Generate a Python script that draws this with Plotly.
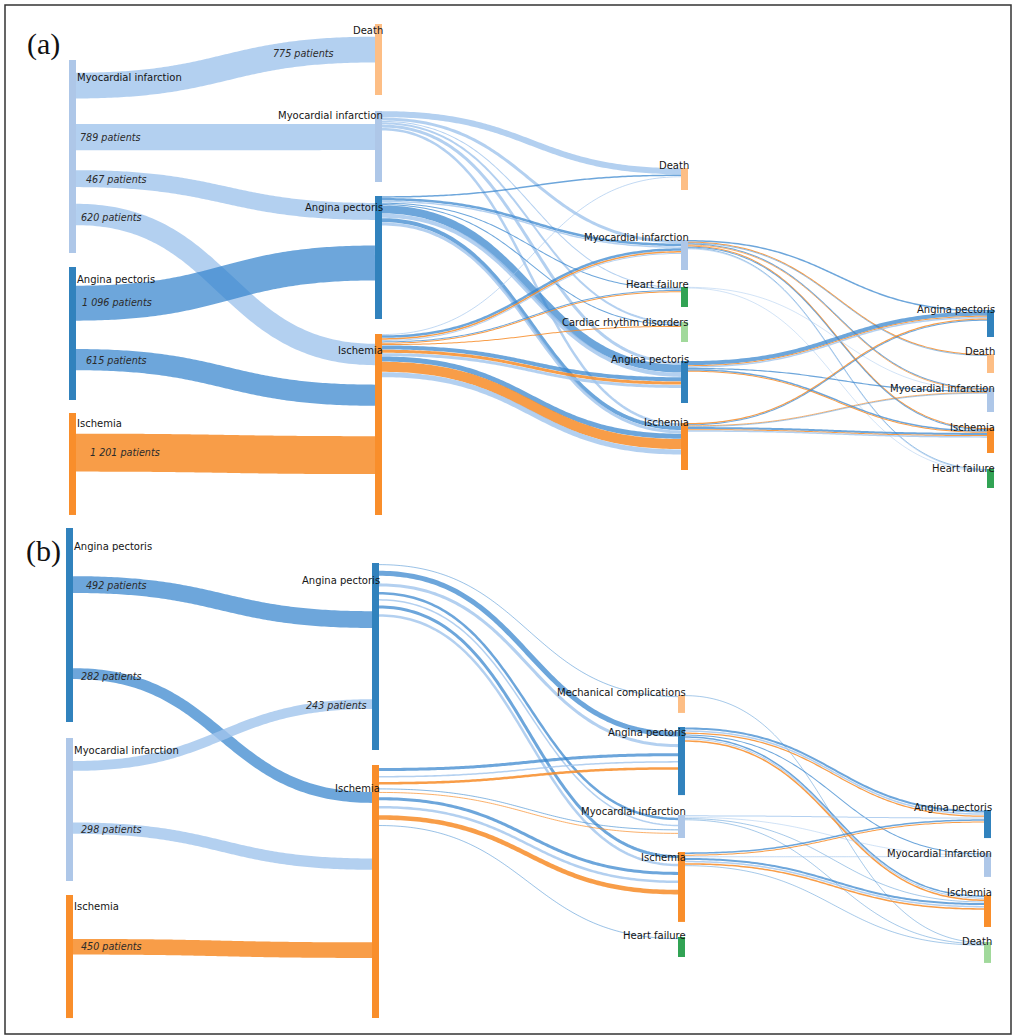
import numpy as np
import plotly.graph_objects as go

# ====================== DATA : panel (a) ======================
A_NODES = ["Myocardial infarction", "Angina pectoris", "Ischemia",
           "Death", "Myocardial infarction", "Angina pectoris", "Ischemia",
           "Death", "Myocardial infarction", "Heart failure", "Cardiac rhythm disorders",
           "Angina pectoris", "Ischemia",
           "Angina pectoris", "Death", "Myocardial infarction", "Ischemia", "Heart failure"]
A_NODE_STEP = [0, 0, 0, 1, 1, 1, 1, 2, 2, 2, 2, 2, 2, 3, 3, 3, 3, 3]
A_NODE_PATIENTS = [2925, 2015, 1545, 1076, 1076, 1864, 2742,
                   333, 455, 303, 303, 636, 712, 409, 288, 364, 379, 288]

A_FLOW_SRC = [0, 0, 0, 0, 1, 1, 2]
A_FLOW_TGT = [3, 4, 5, 6, 5, 6, 6]
A_FLOW_PATIENTS = [775, 789, 467, 620, 1096, 615, 1201]

# later pathways, coloured by the first event (MI / AP / IS)
A_PATH_SRC = [4, 4, 4, 4, 4, 4,
              5, 5, 5, 5, 5, 5, 5, 5, 5,
              6, 6, 6, 6, 6, 6, 6, 6, 6, 6, 6, 6, 6,
              8, 8, 8, 8, 8, 8, 8, 8, 8,
              9, 9,
              11, 11, 11, 11, 11, 11,
              12, 12, 12, 12, 12, 12, 12]
A_PATH_TGT = [7, 8, 9, 10, 11, 12,
              7, 8, 8, 9, 10, 11, 11, 12, 12,
              7, 8, 8, 8, 9, 9, 10, 11, 11, 11, 12, 12, 12,
              13, 14, 14, 15, 15, 16, 16, 17, 17,
              15, 17,
              13, 13, 13, 15, 16, 16,
              13, 13, 15, 15, 16, 16, 16]
A_PATH_ORIGIN = ["MI", "MI", "MI", "MI", "MI", "MI",
                 "AP", "AP", "MI", "AP", "AP", "AP", "MI", "AP", "MI",
                 "MI", "AP", "IS", "MI", "AP", "IS", "IS", "AP", "IS", "MI", "AP", "IS", "MI",
                 "AP", "IS", "AP", "AP", "IS", "IS", "AP", "AP", "MI",
                 "MI", "MI",
                 "AP", "IS", "MI", "AP", "AP", "IS",
                 "IS", "AP", "IS", "AP", "AP", "IS", "MI"]
A_PATH_PATIENTS = [210, 105, 35, 70, 105, 88,
                   52, 88, 52, 35, 35, 280, 140, 140, 105,
                   28, 88, 52, 35, 35, 35, 35, 140, 105, 105, 175, 350, 175,
                   52, 35, 25, 35, 28, 35, 35, 25, 25,
                   21, 21,
                   140, 35, 52, 42, 52, 35,
                   42, 35, 28, 21, 70, 35, 52]
A_FLOW_LABEL_POS = [0.76, 0.117, 0.137, 0.12, 0.137, 0.134, 0.164]

# ====================== DATA : panel (b) ======================
B_NODES = ["Angina pectoris", "Myocardial infarction", "Ischemia",
           "Angina pectoris", "Ischemia",
           "Mechanical complications", "Angina pectoris", "Myocardial infarction", "Ischemia",
           "Heart failure",
           "Angina pectoris", "Myocardial infarction", "Ischemia", "Death"]
B_NODE_STEP = [0, 0, 0, 1, 1, 2, 2, 2, 2, 2, 3, 3, 3, 3]
B_NODE_PATIENTS = [843, 622, 535, 813, 1100, 78, 296, 100, 304, 87, 122, 104, 139, 91]

B_FLOW_SRC = [0, 0, 1, 1, 2]
B_FLOW_TGT = [3, 4, 3, 4, 4]
B_FLOW_PATIENTS = [492, 282, 243, 298, 450]

B_PATH_SRC = [3, 3, 3, 3, 3, 3, 3,
              4, 4, 4, 4, 4, 4, 4, 4, 4,
              5,
              6, 6, 6, 6, 6, 6, 6,
              7, 7, 7, 7,
              8, 8, 8, 8, 8, 8, 8]
B_PATH_TGT = [5, 6, 6, 7, 7, 8, 8,
              6, 6, 6, 7, 7, 8, 8, 8, 9,
              13,
              10, 10, 10, 11, 12, 12, 12,
              10, 11, 12, 13,
              10, 10, 11, 12, 12, 12, 13]
B_PATH_ORIGIN = ["AP", "AP", "MI", "AP", "MI", "AP", "MI",
                 "AP", "MI", "IS", "AP", "IS", "AP", "MI", "IS", "AP",
                 "AP",
                 "AP", "MI", "IS", "AP", "AP", "MI", "IS",
                 "MI", "MI", "AP", "AP",
                 "AP", "IS", "MI", "AP", "MI", "IS", "AP"]
B_PATH_PATIENTS = [25, 180, 108, 90, 54, 108, 90,
                   108, 54, 90, 29, 29, 108, 90, 162, 25,
                   22,
                   72, 54, 43, 36, 54, 36, 54,
                   36, 22, 22, 22,
                   54, 36, 29, 72, 54, 54, 22]
B_FLOW_LABEL_POS = [0.147, 0.13, 0.88, 0.13, 0.13]

# ====================== LAYOUT / STYLE ======================
W, H = 1012, 1035
NODE_W = 7
FONT = "DejaVu Sans"

NODE_COLORS_A = {"Myocardial infarction": "#aec7e8", "Angina pectoris": "#3182bd",
                 "Ischemia": "#f98e2b", "Death": "#fdbe85", "Heart failure": "#31a354",
                 "Cardiac rhythm disorders": "#a1d99b"}
NODE_COLORS_B = {"Myocardial infarction": "#aec7e8", "Angina pectoris": "#3182bd",
                 "Ischemia": "#f98e2b", "Death": "#a1d99b", "Heart failure": "#31a354",
                 "Mechanical complications": "#fdbe85"}
LINK_COLORS = {"MI": "rgba(160,196,236,0.80)", "AP": "rgba(52,132,205,0.72)",
               "IS": "rgba(247,140,40,0.85)"}
ORIGIN_OF = {"Myocardial infarction": "MI", "Angina pectoris": "AP", "Ischemia": "IS"}

PANEL_A = dict(nodes=A_NODES, step=A_NODE_STEP, patients=A_NODE_PATIENTS,
               fsrc=A_FLOW_SRC, ftgt=A_FLOW_TGT, fval=A_FLOW_PATIENTS, flab=A_FLOW_LABEL_POS,
               psrc=A_PATH_SRC, ptgt=A_PATH_TGT, porg=A_PATH_ORIGIN, pval=A_PATH_PATIENTS,
               colors=NODE_COLORS_A,
               col_x=[69, 375, 681, 987],
               top=[60, 267, 413, 24, 111, 196, 334, 168, 240, 287, 322, 361, 423,
                    310, 354, 388, 428, 469],
               label_dy=[17, 12, 10, 6, 4, 11, 16, -3, -3, -3, 0, -2, -1, -1, -3, 0, -1, -1],
               scale=0.066, kw=0.0286, w0=3.6,
               slot=[(1.0, 0.35), (1.0, 0.1)],
               tag="(a)", tag_y=44)
PANEL_B = dict(nodes=B_NODES, step=B_NODE_STEP, patients=B_NODE_PATIENTS,
               fsrc=B_FLOW_SRC, ftgt=B_FLOW_TGT, fval=B_FLOW_PATIENTS, flab=B_FLOW_LABEL_POS,
               psrc=B_PATH_SRC, ptgt=B_PATH_TGT, porg=B_PATH_ORIGIN, pval=B_PATH_PATIENTS,
               colors=NODE_COLORS_B,
               col_x=[66, 372, 678, 984],
               top=[528, 738, 895, 563, 765, 695, 727, 815, 852, 937, 810, 853, 895, 942],
               label_dy=[18, 12, 11, 17, 23, -3, 5, -4, 5, -2, -3, 0, -3, -1],
               scale=0.23, kw=0.028, w0=3.0,
               slot=[(2.5, 1.5), (1.2, 0.5)],
               tag="(b)", tag_y=551)


def bezier(x0, y0, x1, y1, n=120):
    t = np.linspace(0, 1, n)
    xm = (x0 + x1) / 2
    x = (1 - t) ** 3 * x0 + 3 * (1 - t) ** 2 * t * xm + 3 * (1 - t) * t ** 2 * xm + t ** 3 * x1
    y = (1 - t) ** 3 * y0 + 3 * (1 - t) ** 2 * t * y0 + 3 * (1 - t) * t ** 2 * y1 + t ** 3 * y1
    return x, y


def fmt(v):
    return f"{v:,}".replace(",", " ") + " patients"


def link_trace(x, y, color, width):
    return go.Scatter(x=x, y=y, mode="lines",
                      line=dict(color=color, width=width, simplify=False),
                      hoverinfo="skip", showlegend=False)


def draw_panel(fig, P, annotations, shapes):
    n = len(P["nodes"])
    top = np.array(P["top"], float)
    s = P["scale"]
    hgt = np.array(P["patients"], float) * s
    xl = np.array([P["col_x"][k] for k in P["step"]], float)
    xr = xl + NODE_W

    # ---- first transition: proportional slots ----
    fs, ft, fv = P["fsrc"], P["ftgt"], P["fval"]
    out_acc = np.zeros(n)
    in_acc = np.zeros(n)
    ys_, yt_ = {}, {}
    for i in sorted(range(len(fs)), key=lambda i: (fs[i], top[ft[i]])):
        ys_[i] = top[fs[i]] + (out_acc[fs[i]] + fv[i] / 2) * s
        out_acc[fs[i]] += fv[i]
    for i in sorted(range(len(fs)), key=lambda i: (ft[i], top[fs[i]])):
        yt_[i] = top[ft[i]] + (in_acc[ft[i]] + fv[i] / 2) * s
        in_acc[ft[i]] += fv[i]
    for i in range(len(fs)):
        w = P["w0"] + P["kw"] * fv[i]
        x, y = bezier(xr[fs[i]], ys_[i], xl[ft[i]], yt_[i])
        fig.add_trace(link_trace(x, y, LINK_COLORS[ORIGIN_OF[P["nodes"][fs[i]]]], w))
        xc = xr[fs[i]] + P["flab"][i] * (xl[ft[i]] - xr[fs[i]])
        yc = float(np.interp(xc, x, y))
        annotations.append(dict(x=xc, y=yc, text="<i>" + fmt(fv[i]) + "</i>", showarrow=False,
                                xanchor="center", yanchor="middle",
                                font=dict(family=FONT, size=9.6, color="#2b2b2b")))

    # ---- later transitions: compact strands ----
    ps, pt, po, pv = P["psrc"], P["ptgt"], P["porg"], P["pval"]
    o_acc = np.zeros(n)
    i_acc = np.zeros(n)
    ys2, yt2 = {}, {}
    widths = [P["kw"] * v for v in pv]
    for i in sorted(range(len(ps)), key=lambda i: (ps[i], top[pt[i]])):
        g, gap = P["slot"][P["step"][ps[i]] - 1]
        sl = g * widths[i] + gap
        ys2[i] = top[ps[i]] + o_acc[ps[i]] + sl / 2
        o_acc[ps[i]] += sl
    for i in sorted(range(len(ps)), key=lambda i: (pt[i], top[ps[i]])):
        g, gap = P["slot"][P["step"][ps[i]] - 1]
        sl = g * widths[i] + gap
        yt2[i] = top[pt[i]] + i_acc[pt[i]] + sl / 2
        i_acc[pt[i]] += sl
    for i in range(len(ps)):
        x, y = bezier(xr[ps[i]], ys2[i], xl[pt[i]], yt2[i])
        fig.add_trace(link_trace(x, y, LINK_COLORS[po[i]], widths[i]))

    # ---- nodes & labels ----
    for k in range(n):
        shapes.append(dict(type="rect", xref="x", yref="y", x0=xl[k], x1=xr[k],
                           y0=top[k], y1=top[k] + hgt[k],
                           fillcolor=P["colors"][P["nodes"][k]], line=dict(width=0), layer="above"))
        first = P["step"][k] == 0
        annotations.append(dict(x=xr[k] + (-1.5 if first else 2.5), y=top[k] + P["label_dy"][k],
                                text=P["nodes"][k], showarrow=False,
                                xanchor="left" if first else "right", yanchor="middle",
                                font=dict(family=FONT, size=10, color="#151515")))
    annotations.append(dict(x=43, y=P["tag_y"], text=P["tag"], showarrow=False,
                            xanchor="center", yanchor="middle",
                            font=dict(family="Liberation Serif", size=30, color="#111")))


fig = go.Figure()
annotations, shapes = [], []
draw_panel(fig, PANEL_A, annotations, shapes)
draw_panel(fig, PANEL_B, annotations, shapes)
shapes.append(dict(type="rect", xref="x", yref="y", x0=5, x1=1011, y0=5, y1=1034,
                   line=dict(color="#333333", width=1.5), fillcolor="rgba(0,0,0,0)", layer="above"))

fig.update_layout(width=W, height=H, margin=dict(l=0, r=0, t=0, b=0),
                  paper_bgcolor="white", plot_bgcolor="white",
                  xaxis=dict(range=[0, W], visible=False, fixedrange=True),
                  yaxis=dict(range=[H, 0], visible=False, fixedrange=True),
                  annotations=annotations, shapes=shapes, showlegend=False)
fig.write_html("out.html", config={"displayModeBar": False},
               post_script="document.body.style.margin='0';")
